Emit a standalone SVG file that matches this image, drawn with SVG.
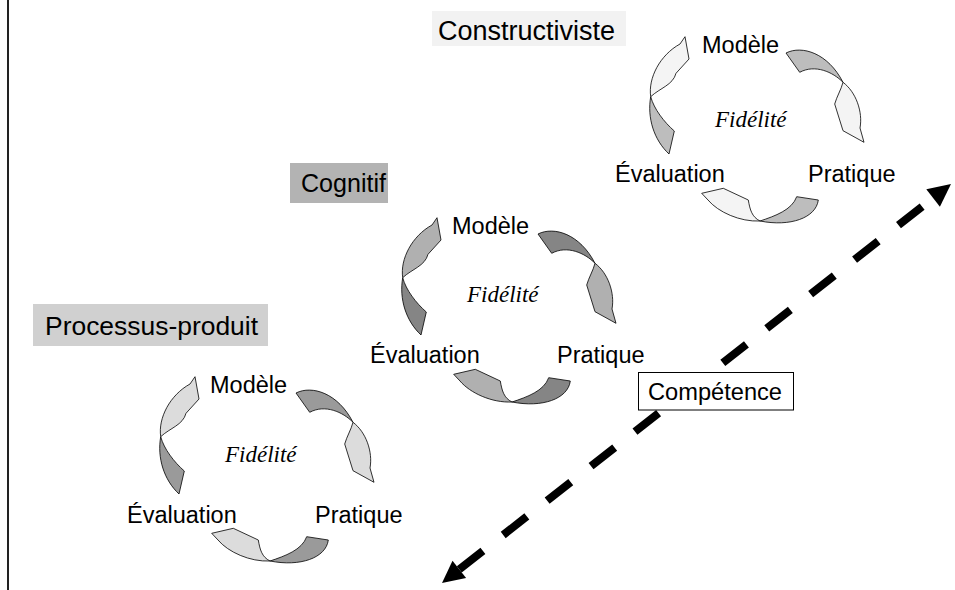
<svg xmlns="http://www.w3.org/2000/svg" xmlns:xlink="http://www.w3.org/1999/xlink" width="955" height="590" viewBox="0 0 955 590">
  <style>
    .lbl { font-family: "Liberation Sans", Arial, sans-serif; fill: #000; }
    .step { font-size: 23.5px; }
    .fid { font-family: "Liberation Serif", "Times New Roman", serif; font-style: italic; font-size: 23px; fill: #000; }
    .dash { fill: none; stroke: #000; stroke-width: 8; stroke-dasharray: 30 25.8; }
    .head { fill: #000; }
    .box { stroke: none; }
  </style>
  <defs>
    <!-- three twisted curved arrows of one cycle; back face uses currentColor, front face inherits fill -->
    <g id="ring" stroke="#000" stroke-width="0.8" stroke-linejoin="round">
      <!-- left arc: Évaluation to Modèle -->
      <path fill="currentColor" d="M179,494 C164,480 157,458 160.7,436.7 C164,449 174,462 184.3,471 Z"/>
      <path d="M160.7,436.7 C158,418 170,395 190,384 L195,376.7 L199,399 L186,413.3 C183,425 170,428 160.7,436.7 Z"/>
      <!-- right arc: Modèle to Pratique -->
      <path fill="currentColor" d="M296,393 C312,385 338,393 353,422.3 C343,412 325,404 309.7,412.3 Z"/>
      <path d="M353,422.3 C366,432 373,452 370,468 L374,482.3 L353,470.7 L344.7,444 C347,436 351,430 353,422.3 Z"/>
      <!-- bottom arc: Pratique to Évaluation -->
      <path fill="currentColor" d="M328.3,540 C326,558 300,567 270,561 C285,556 302,550 306.7,536.7 Z"/>
      <path d="M270,561 C250,562 228,552 218,540 L211.7,533.3 L233.3,528.3 L258.3,540 C260,550 262,557 270,561 Z"/>
    </g>
  </defs>

  <rect width="955" height="590" fill="#fff"/>
  <!-- frame edge on the left -->
  <line x1="8" y1="0" x2="8" y2="590" stroke="#222" stroke-width="2"/>

  <g id="connectors">
    <use xlink:href="#ring" fill="#dcdcdc" color="#9a9a9a"/>
    <use xlink:href="#ring" transform="translate(242,-159)" fill="#b0b0b0" color="#858585"/>
    <use xlink:href="#ring" transform="translate(490,-340)" fill="#f4f4f4" color="#bdbdbd"/>
    <!-- competence axis -->
    <g id="axis">
      <line class="dash" x1="459.3" y1="569.4" x2="922.5" y2="206.4"/>
      <polygon class="head" points="442,583 466.1,578.1 452.5,560.7"/>
      <polygon class="head" points="951,184 939.9,206.7 926.3,189.3"/>
    </g>
  </g>

  <g id="label-constructiviste">
    <rect class="box" x="432" y="11" width="194" height="35" fill="#f2f2f2"/>
    <text class="lbl" x="438" y="40" font-size="27" textLength="177" lengthAdjust="spacingAndGlyphs">Constructiviste</text>
  </g>
  <g id="label-cognitif">
    <rect class="box" x="290" y="163" width="98" height="40" fill="#b3b3b3"/>
    <text class="lbl" x="301" y="192" font-size="25.5" textLength="85" lengthAdjust="spacingAndGlyphs">Cognitif</text>
  </g>
  <g id="label-processus">
    <rect class="box" x="33" y="304" width="235" height="42" fill="#d0d0d0"/>
    <text class="lbl" x="45" y="335" font-size="26" textLength="213" lengthAdjust="spacingAndGlyphs">Processus-produit</text>
  </g>

  <g id="cycle-processus">
    <text class="lbl step" x="210" y="393">Modèle</text>
    <text class="fid" x="225" y="462">Fidélité</text>
    <text class="lbl step" x="127" y="523">Évaluation</text>
    <text class="lbl step" x="315" y="523">Pratique</text>
  </g>
  <g id="cycle-cognitif">
    <text class="lbl step" x="452" y="233.5">Modèle</text>
    <text class="fid" x="467" y="302">Fidélité</text>
    <text class="lbl step" x="370" y="362.5">Évaluation</text>
    <text class="lbl step" x="557" y="363">Pratique</text>
  </g>
  <g id="cycle-constructiviste">
    <text class="lbl step" x="702" y="53">Modèle</text>
    <text class="fid" x="715" y="127">Fidélité</text>
    <text class="lbl step" x="615" y="182">Évaluation</text>
    <text class="lbl step" x="808" y="182">Pratique</text>
  </g>

  <g id="competence">
    <rect x="638.5" y="372.5" width="155" height="37.5" fill="#fff" stroke="#000" stroke-width="1"/>
    <text class="lbl" x="648" y="400" font-size="23.5" textLength="134" lengthAdjust="spacingAndGlyphs">Compétence</text>
  </g>
</svg>
